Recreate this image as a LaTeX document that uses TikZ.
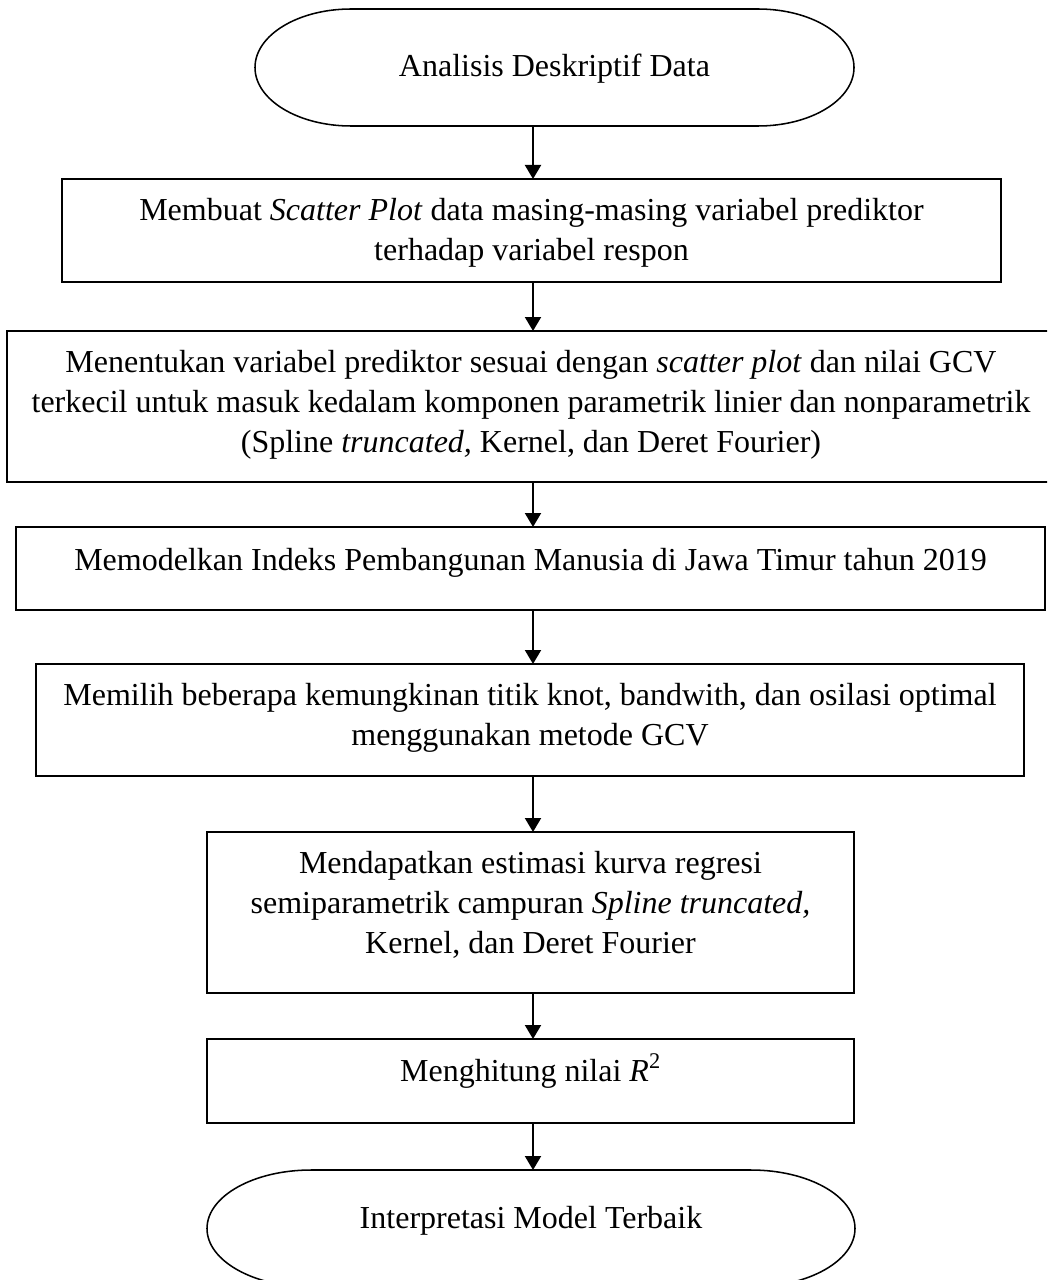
\documentclass[tikz,border=0pt]{standalone}
\usepackage{fontspec}
\setmainfont{Liberation Serif}
\usetikzlibrary{arrows.meta}
\newcommand{\flines}[1]{\vtop{\halign{\hfil##\hfil\cr#1\crcr}}}
\begin{document}
\begin{tikzpicture}[x=0.75pt,y=-0.75pt,
  box/.style={draw, line width=1.15pt, rectangle, inner sep=0pt, outer sep=0pt},
  termnode/.style={inner sep=0pt, outer sep=0pt},
  termline/.style={draw, line width=1.15pt},
  txt/.style={anchor=base, inner sep=0pt, outer sep=0pt, font=\fontsize{24}{30}\selectfont},
  arr/.style={line width=1.5pt, -{Triangle[width=12pt,length=10.5pt]}}]
\useasboundingbox (0,0) rectangle (1047,1280);
\clip (0,0) rectangle (1047,1280);
\coordinate (ax) at (533,0);

% start terminator
\node[termnode, minimum width=449.25pt, minimum height=87.75pt] (t1) at (554.5,67.5) {};
\draw[termline] ([xshift=72pt]t1.north west) -- ([xshift=-72pt]t1.north east)
  arc[start angle=90,end angle=-90,x radius=72pt,y radius=43.875pt]
  -- ([xshift=72pt]t1.south west)
  arc[start angle=270,end angle=90,x radius=72pt,y radius=43.875pt] -- cycle;
\node[txt] (t1txt) at (554.5,77) {Analisis Deskriptif Data};

% boxes
\node[box, minimum width=704.25pt, minimum height=77.25pt] (b2) at (531.5,230.5) {};
\node[txt] (b2txt) at (531.5,220) {\flines{Membuat \textit{Scatter Plot} data masing-masing variabel prediktor\cr terhadap variabel respon}};

\node[box, minimum width=786pt, minimum height=113.25pt] (b3) at (531,406.5) {};
\node[txt] (b3txt) at (531,372) {\flines{Menentukan variabel prediktor sesuai dengan \textit{scatter plot} dan nilai GCV\cr terkecil untuk masuk kedalam komponen parametrik linier dan nonparametrik\cr (Spline \textit{truncated,} Kernel, dan Deret Fourier)}};

\node[box, minimum width=771.75pt, minimum height=62.25pt] (b4) at (530.5,568.5) {};
\node[txt] (b4txt) at (530.5,570) {Memodelkan Indeks Pembangunan Manusia di Jawa Timur tahun 2019};

\node[box, minimum width=741pt, minimum height=84pt] (b5) at (530,720) {};
\node[txt] (b5txt) at (530,705) {\flines{Memilih beberapa kemungkinan titik knot, bandwith, dan osilasi optimal\cr menggunakan metode GCV}};

\node[box, minimum width=485.25pt, minimum height=120.75pt] (b6) at (530.5,912.5) {};
\node[txt] (b6txt) at (530.5,873) {\flines{Mendapatkan estimasi kurva regresi\cr semiparametrik campuran \textit{Spline truncated,}\cr Kernel, dan Deret Fourier}};

\node[box, minimum width=485.25pt, minimum height=63pt] (b7) at (530.5,1081) {};
\node[txt] (b7txt) at (530.5,1081) {Menghitung nilai \textit{R}\textsuperscript{2}};

% end terminator
\node[termnode, minimum width=486pt, minimum height=87.75pt] (t2) at (531,1228.5) {};
\draw[termline] ([xshift=78pt]t2.north west) -- ([xshift=-78pt]t2.north east)
  arc[start angle=90,end angle=-90,x radius=78pt,y radius=43.875pt]
  -- ([xshift=78pt]t2.south west)
  arc[start angle=270,end angle=90,x radius=78pt,y radius=43.875pt] -- cycle;
\node[txt] (t2txt) at (531,1228) {Interpretasi Model Terbaik};

% connectors
\draw[arr] (t1.south -| ax) -- (b2.north -| ax);
\draw[arr] (b2.south -| ax) -- (b3.north -| ax);
\draw[arr] (b3.south -| ax) -- (b4.north -| ax);
\draw[arr] (b4.south -| ax) -- (b5.north -| ax);
\draw[arr] (b5.south -| ax) -- (b6.north -| ax);
\draw[arr] (b6.south -| ax) -- (b7.north -| ax);
\draw[arr] (b7.south -| ax) -- (t2.north -| ax);
\end{tikzpicture}
\end{document}
